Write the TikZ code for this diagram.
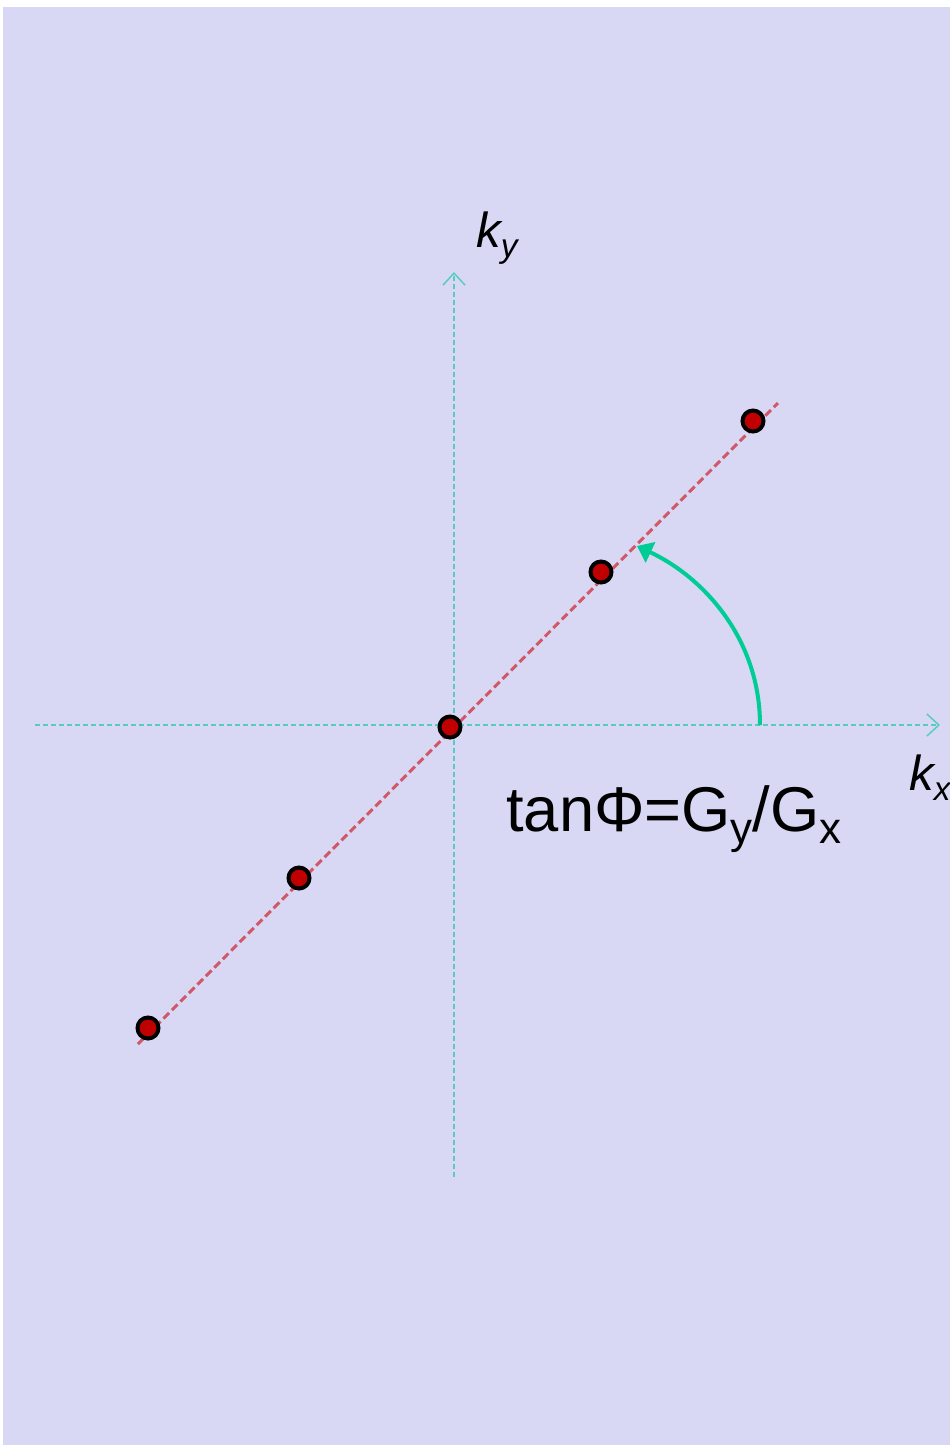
\documentclass[tikz,border=0pt]{standalone}
\usepackage{fontspec}
\setmainfont{Liberation Sans}
\usetikzlibrary{arrows.meta}
\definecolor{bgviolet}{RGB}{216,216,244}
\definecolor{axisteal}{RGB}{88,204,194}
\definecolor{linered}{RGB}{208,88,104}
\definecolor{dotred}{RGB}{192,0,0}
\definecolor{arcgreen}{RGB}{0,204,150}
% lowered subscript: shift, size, text
\newcommand{\lowsub}[3]{\raisebox{#1}{\fontsize{#2}{#2}\selectfont #3}}

\begin{document}
\begin{tikzpicture}[x=0.02cm, y=-0.02cm,
  axis/.style={axisteal, line width=0.04cm, dash pattern=on 0.1cm off 0.06cm,
    -{Straight Barb[length=0.24cm, width=0.44cm, line width=0.03cm]}},
  lattice/.style={linered, line width=0.06cm, dash pattern=on 0.16cm off 0.08cm},
  point/.style={circle, draw=black, fill=dotred, line width=0.08cm, minimum size=0.42cm, inner sep=0pt},
  lbl/.style={inner sep=0pt, font=\fontsize{28}{30}\selectfont\itshape},
  angle/.style={arcgreen, line width=0.08cm, -{Triangle[length=0.3cm, width=0.44cm]}}]
  % page and background
  \fill[white] (0,0) rectangle (950,1445);
  \useasboundingbox (0,0) rectangle (950,1445);
  \fill[bgviolet] (3,7) rectangle (950,1445);
  % axes
  \coordinate (xstart) at (35,725);
  \coordinate (xend) at (940,725);
  \coordinate (ystart) at (454,1177);
  \coordinate (yend) at (454,272);
  \draw[axis] (xstart) -- (xend);
  \draw[axis] (ystart) -- (yend);
  \node[lbl, anchor=base west] (kylabel) at (476,247) {k\lowsub{-0.22em}{19pt}{y}};
  \node[lbl, anchor=base west] (kxlabel) at (909,790) {k\lowsub{-0.22em}{19pt}{x}};
  % line of lattice points
  \coordinate (lstart) at (138,1044);
  \coordinate (lend) at (778,403);
  \draw[lattice] (lstart) -- (lend);
  \node[point] (p1) at (148,1028) {};
  \node[point] (p2) at (299,878) {};
  \node[point] (p3) at (450,727) {};
  \node[point] (p4) at (601,572) {};
  \node[point] (p5) at (753,421) {};
  % angle
  \coordinate (arcstart) at (760,725);
  \coordinate (arcend) at (637,546);
  \draw[angle] (arcstart) .. controls (760,640) and (705,578) .. (arcend);
  \node[inner sep=0pt, anchor=base west, font=\fontsize{36}{40}\selectfont] (tanlabel) at (506,831)
    {tanΦ=G\lowsub{-0.2em}{25pt}{y}/G\lowsub{-0.2em}{25pt}{x}};
\end{tikzpicture}
\end{document}
